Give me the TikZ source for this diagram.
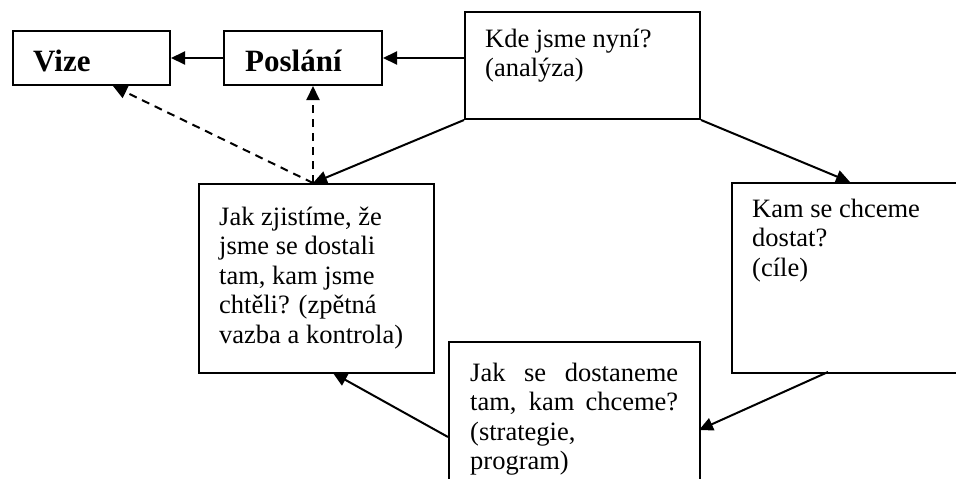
\documentclass[tikz,border=0pt]{standalone}
\usepackage{fontspec}
\setmainfont{Liberation Serif}
\usetikzlibrary{arrows.meta,calc}

\tikzset{
  box/.style={draw, line width=2pt, rectangle, inner sep=0pt, anchor=north west},
  % multi-line texts are placed by the baseline of their last line
  txt/.style={inner sep=0pt, anchor=base west, align=left,
    font=\fontsize{26.5}{29.5}\selectfont},
  head/.style={inner sep=0pt, anchor=base west,
    font=\fontsize{31}{34}\selectfont\bfseries},
  arr/.style={line width=2pt, -{Triangle[length=14pt,width=13pt]}},
  darr/.style={arr, dash pattern=on 8pt off 6pt}
}

\begin{document}
\begin{tikzpicture}[x=1pt,y=-1pt]
\useasboundingbox (0,0) rectangle (956,479);
\fill[white] (0,0) rectangle (956,479);

% boxes
\node[box, minimum width=157pt, minimum height=54pt] (vize) at (12,30) {};
\node[box, minimum width=158pt, minimum height=54pt] (posl) at (223,30) {};
\node[box, minimum width=235pt, minimum height=107pt] (now) at (464,11) {};
\node[box, minimum width=235pt, minimum height=189pt] (check) at (198,183) {};
\node[box, minimum width=250pt, minimum height=190pt] (goal) at (731,182) {};
\node[box, minimum width=251pt, minimum height=170pt] (how) at (448,341) {};

% labels
\node[head] (tvize) at (33,71) {Vize};
\node[head] (tposl) at (245,71) {Poslání};
\node[txt] (tnow) at (485,76.5) {Kde jsme nyní?\\(analýza)};
\node[txt] (tcheck) at (219,343) {Jak zjistíme, že\\jsme se dostali\\tam, kam jsme\\chtěli? (zpětná\\vazba a kontrola)};
\node[txt] (tgoal) at (752,276) {Kam se chceme\\dostat?\\(cíle)};
\node[txt] (thow) at (470,469.5) {\makebox[208pt][s]{Jak se dostaneme}\\\makebox[208pt][s]{tam, kam chceme?}\\(strategie,\\program)};

% connector end points
\coordinate (ctop) at (313,183);
\coordinate (gtop) at (850,182);
\coordinate (vbot) at (113,86);
\coordinate (gbot) at (828,372);
\coordinate (hin) at (699,430);
\coordinate (hout) at (448,437);
\coordinate (cbot) at (333,373);

% solid flow
\draw[arr] (posl.east -| now.west) -- (posl.east);
\draw[arr] (posl.west) -- (vize.east);
\draw[arr] (now.south west) -- (ctop);
\draw[arr] (now.south east) -- (gtop);
\draw[arr] (gbot) -- (hin);
\draw[arr] (hout) -- (cbot);

% feedback
\draw[darr] (ctop) -- (ctop |- posl.south);
\draw[darr] (ctop) -- (vbot);
\end{tikzpicture}
\end{document}
